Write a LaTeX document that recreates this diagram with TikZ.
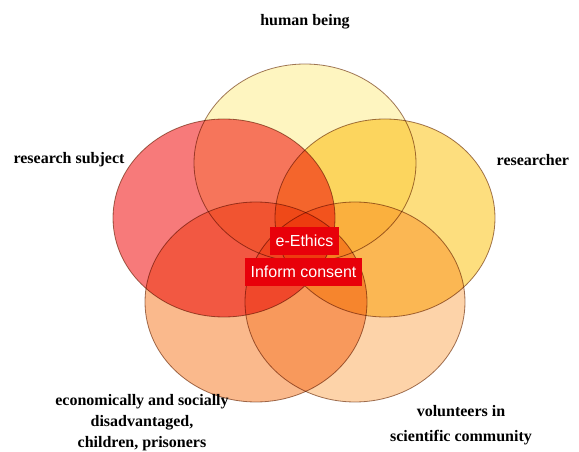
\documentclass[tikz,border=0pt]{standalone}
\usepackage{fontspec}
\setmainfont{Liberation Serif}
\newfontfamily\tagfont{Liberation Sans}
\usetikzlibrary{shapes.geometric}

\definecolor{petaltop}{HTML}{FEF5C0}
\definecolor{petalleft}{HTML}{F77A7A}
\definecolor{petalright}{HTML}{FDDE7E}
\definecolor{petalbl}{HTML}{FAB98C}
\definecolor{petalbr}{HTML}{FDD3A9}
\definecolor{petaledge}{HTML}{A07A62}
\definecolor{tagred}{HTML}{E8000A}

\begin{document}
\begin{tikzpicture}[x=0.75pt,y=-0.75pt,
  petal/.style={draw=petaledge, line width=0.6pt, blend mode=multiply},
  tag/.style={fill=tagred, text=white, font=\tagfont\fontsize{12}{14}\selectfont,
    minimum height=21pt, inner xsep=4.5pt, inner ysep=0pt},
  lbl/.style={font=\bfseries\fontsize{12}{16}\selectfont, align=center}]
\useasboundingbox (0,0) rectangle (579,452);
\clip (0,0) rectangle (579,452);
% five overlapping ellipses
\filldraw[petal, fill=petaltop] (305,163) ellipse [x radius=111, y radius=99];
\filldraw[petal, fill=petalleft] (224,218) ellipse [x radius=111, y radius=99];
\filldraw[petal, fill=petalright] (385,218) ellipse [x radius=110, y radius=99];
\filldraw[petal, fill=petalbl] (256,302) ellipse [x radius=111, y radius=100];
\filldraw[petal, fill=petalbr] (355,302) ellipse [x radius=110, y radius=100];
% centre tags
\node[tag] (ethics) at (304.5,241) {e-Ethics};
\node[tag] (consent) at (303.5,272) {Inform consent};
% outer labels
\node[lbl] (human) at (305,22) {human being};
\node[lbl] (subject) at (69,160) {research subject};
\node[lbl, anchor=west] (researcher) at (492,160) {researcher};
\node[lbl] (poor) at (142,422.5) {economically and socially\\disadvantaged,\\children, prisoners};
\node[lbl, font=\bfseries\fontsize{12}{18.5}\selectfont] (volunteers) at (461,425.5) {volunteers in\\scientific community};
\end{tikzpicture}
\end{document}
